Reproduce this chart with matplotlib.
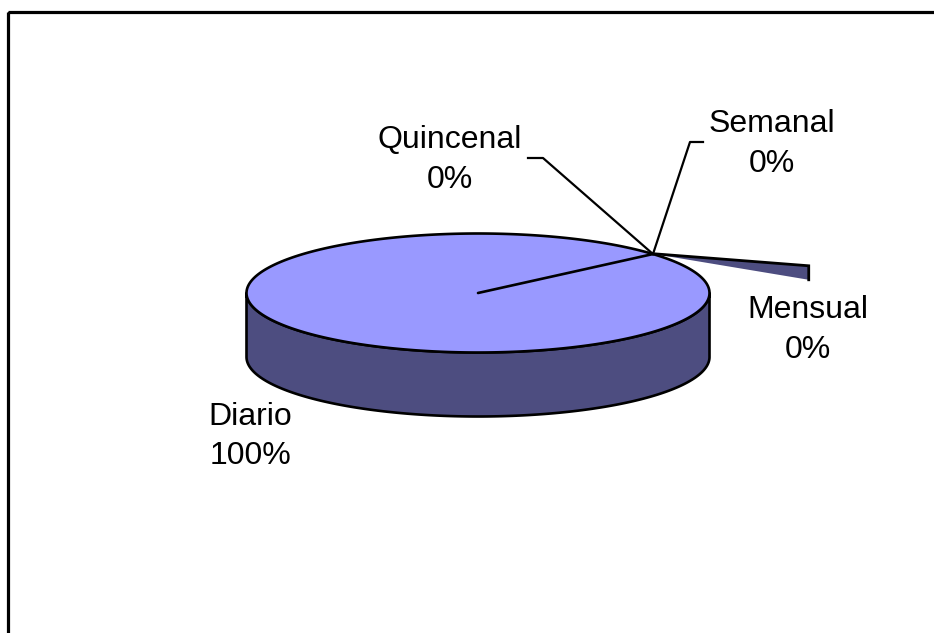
import numpy as np
import matplotlib
matplotlib.use("Agg")
import matplotlib.pyplot as plt
from matplotlib.patches import Polygon, Rectangle

# Data: frequency of the activity (counts per category)
categories = ["Diario", "Quincenal", "Semanal", "Mensual"]
counts = [299, 0, 0, 1]

# Label anchors (pixels): centre x, baseline of the name line, baseline of the % line
label_pos = {"Diario": (250, 425, 464), "Quincenal": (450, 148, 188),
             "Semanal": (772, 132, 172), "Mensual": (808, 318, 358)}
leader_elbow = {"Quincenal": ((528, 158), (543, 158)),
                "Semanal": ((703, 142), (690, 142))}

TOP = "#9999FF"
SIDE = "#4D4D80"
EDGE = "black"

W, H = 934, 633
fig = plt.figure(figsize=(W / 100, H / 100), dpi=100)
ax = fig.add_axes([0, 0, 1, 1])
ax.set_xlim(0, W)
ax.set_ylim(H, 0)
ax.axis("off")

# outer chart frame (runs off the right and bottom edges)
ax.add_patch(Rectangle((7.5, 11.5), W + 20, H + 20, fill=False,
                       lw=2.3, ec="black", zorder=10))

# 3D pie geometry (pixels)
cx, cy, rx, ry, depth = 478, 293, 231.5, 59.5, 64
start_deg = 40.9

def rim(theta_deg, r=1.0, dz=0.0):
    t = np.radians(theta_deg)
    return cx + rx * r * np.cos(t), cy - ry * r * np.sin(t) + dz

total = float(sum(counts))
fracs = [c / total for c in counts]
pcts = [f"{round(100 * f):d}%" for f in fracs]

# slice angles, clockwise from the start angle
angles = []
a = start_deg
for f in fracs:
    angles.append((a, a - 360 * f))
    a -= 360 * f

# side wall of the pie (front half, 180 -> 360 degrees)
t = np.linspace(180, 360, 200)
top_arc = np.array([rim(v) for v in t])
bot_arc = np.array([rim(v, dz=depth) for v in t])
side = np.vstack([top_arc, bot_arc[::-1]])
ax.add_patch(Polygon(side, closed=True, fc=SIDE, ec=EDGE, lw=1.9,
                     joinstyle="round", zorder=2))

# top face of the pie
t = np.linspace(0, 360, 400)
face = np.array([rim(v) for v in t])
ax.add_patch(Polygon(face, closed=True, fc=TOP, ec=EDGE, lw=1.9, zorder=3))

# radial boundary of the main slice
bx, by = rim(angles[0][0])
ax.plot([cx, bx], [cy, by], color=EDGE, lw=1.9, zorder=4,
        solid_capstyle="round")

# exploded thin slice for the smallest category
mid = 0.5 * (angles[3][0] + angles[3][1])
ax0, ay0 = rim(mid)
sliver_len, sliver_dir, sliver_side = 0.71, -16.8, 14
tx = ax0 + rx * sliver_len * np.cos(np.radians(sliver_dir))
ty = ay0 - ry * sliver_len * np.sin(np.radians(sliver_dir))
ax.add_patch(Polygon([(ax0, ay0), (tx, ty), (tx, ty + sliver_side)],
                     closed=True, fc=SIDE, ec="none", zorder=5))
ax.plot([ax0, tx, tx], [ay0, ty, ty + sliver_side], color=EDGE, lw=2.0,
        zorder=6, solid_joinstyle="miter")

# leader lines for the empty slices
for name, (p_end, p_elbow) in leader_elbow.items():
    ax.plot([p_end[0], p_elbow[0], bx], [p_end[1], p_elbow[1], by],
            color=EDGE, lw=1.6, zorder=7)

# data labels: category name above its percentage
font = dict(fontsize=23, family=["Liberation Sans", "DejaVu Sans"],
            ha="center", va="baseline", zorder=8)
for name, pct in zip(categories, pcts):
    x, y_name, y_pct = label_pos[name]
    ax.text(x, y_name, name, **font)
    ax.text(x, y_pct, pct, **font)

fig.savefig("out.png", dpi=100, facecolor="white")
